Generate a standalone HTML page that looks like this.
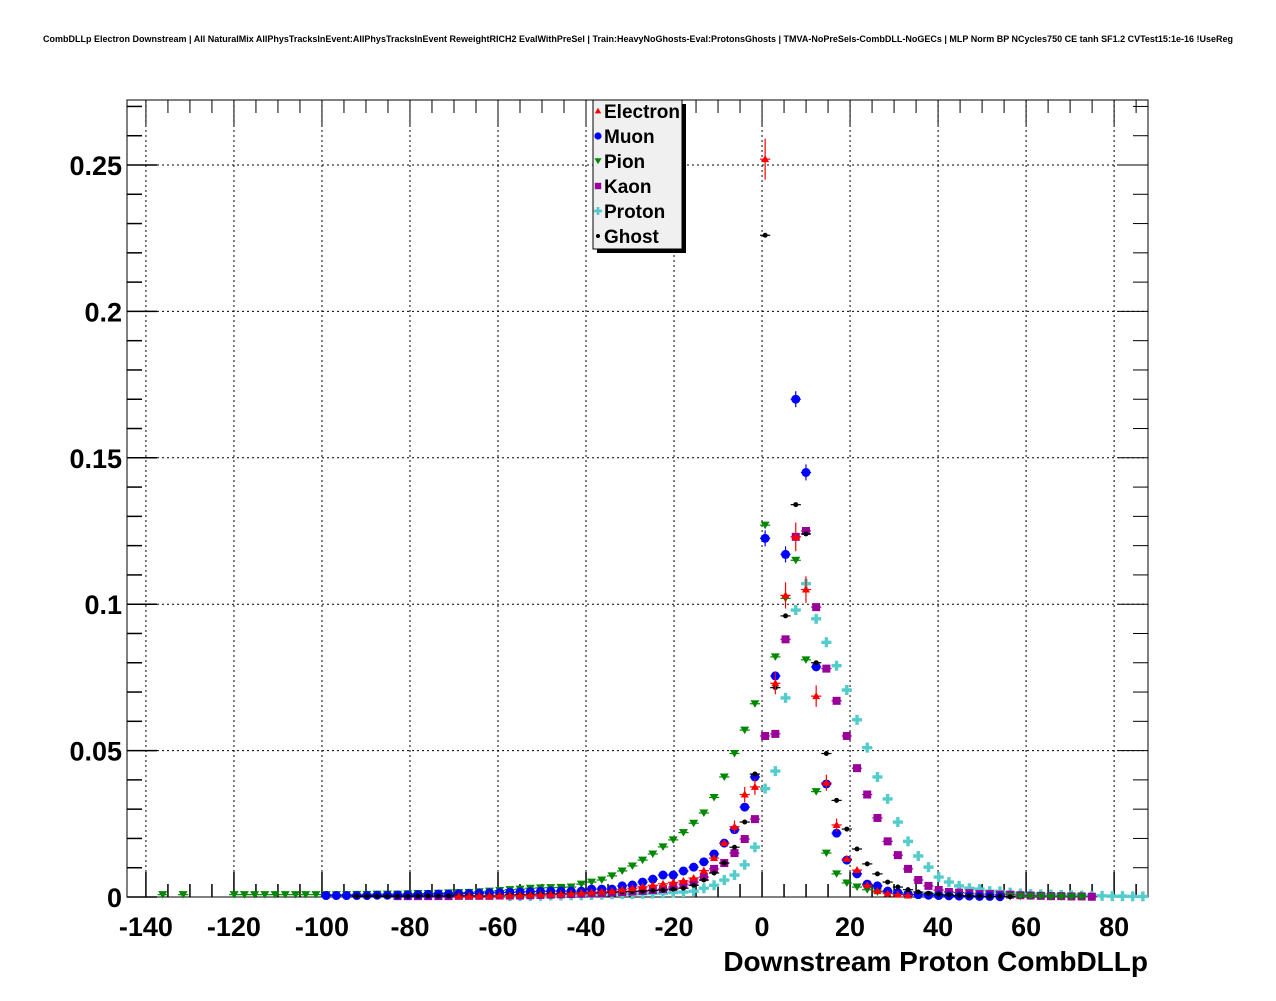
<!DOCTYPE html>
<html><head><meta charset="utf-8"><style>
body{margin:0;background:#fff;}
svg text{font-family:"Liberation Sans",sans-serif;font-weight:bold;}
</style></head><body>
<svg id="c" width="1276" height="996" xmlns="http://www.w3.org/2000/svg">
<text x="638" y="42" font-size="9" text-anchor="middle">CombDLLp Electron Downstream | All NaturalMix AllPhysTracksInEvent:AllPhysTracksInEvent ReweightRICH2 EvalWithPreSel | Train:HeavyNoGhosts-Eval:ProtonsGhosts | TMVA-NoPreSels-CombDLL-NoGECs | MLP Norm BP NCycles750 CE tanh SF1.2 CVTest15:1e-16 !UseReg</text>
<g id="grid"></g>
<g id="axes"></g>
<g id="marks"></g>
<text x="1148" y="971" font-size="28" text-anchor="end">Downstream Proton CombDLLp</text>
<g>
<rect x="597" y="104" width="89" height="149" fill="#000"/>
<rect x="593" y="100" width="89" height="149" fill="#f0f0f0" stroke="#000" stroke-width="1"/>
<g id="leg"></g>
</g>
</svg>
<script>
const xTicks=[-140,-120,-100,-80,-60,-40,-20,0,20,40,60,80];
const yTicks=[0,0.05,0.1,0.15,0.2,0.25];
const yTickLabels=["0","0.05","0.1","0.15","0.2","0.25"];
const binCenter0=0.7, binWidth=2.32;
const electronStart=-30;
const electronVals=[0.0003,0.0003,0.0004,0.0004,0.0005,0.0005,0.0006,0.0007,0.0008,0.0009,0.001,0.0012,0.0014,0.0016,0.0018,0.002,0.0025,0.003,0.0035,0.004,0.0045,0.005,0.0055,0.0065,0.009,0.0133,0.0184,0.024,0.035,0.0376,0.252,0.073,0.103,0.123,0.105,0.0686,0.039,0.0246,0.013,0.0092,0.004,0.002,0.0012,0.0008,0.0005];
const muonStart=-43;
const muonVals=[0.0005,0.0005,0.0005,0.0005,0.0005,0.0006,0.0006,0.0007,0.0007,0.0008,0.0009,0.001,0.001,0.0011,0.0012,0.0013,0.0014,0.0015,0.0016,0.0017,0.0018,0.0019,0.002,0.002,0.002,0.002,0.0027,0.0027,0.0027,0.0038,0.0041,0.0051,0.0061,0.0075,0.0075,0.0089,0.0102,0.012,0.0147,0.0184,0.023,0.0307,0.041,0.1225,0.0755,0.117,0.17,0.145,0.0786,0.0386,0.0218,0.0126,0.0079,0.0044,0.0038,0.002,0.0015,0.001,0.0008,0.0006,0.0005,0.0004,0.0003,0.0003,0.0002,0.0002,0.0001];
const pionStart=-59;
const pionVals=[0.0008,null,0.0008,null,null,null,null,0.0008,0.0008,0.0008,0.0008,0.0008,0.0008,0.0008,0.0008,0.0008,0.0008,0.0008,0.0008,0.0009,0.0009,0.001,0.001,0.001,0.0011,0.0012,0.0012,0.0013,0.0014,0.0015,0.0016,0.0018,0.002,0.0022,0.0025,0.0027,0.003,0.0031,0.0032,0.0033,0.0034,0.0044,0.0051,0.0058,0.0072,0.0089,0.0106,0.0126,0.0147,0.0171,0.0195,0.022,0.0252,0.0287,0.034,0.041,0.049,0.057,0.066,0.127,0.082,0.102,0.115,0.081,0.036,0.015,0.0079,0.0048,0.0034,0.0025,0.0017,0.0012,0.001,0.0008,0.0007,0.0006,0.0005,0.0005,0.0004,0.0004,0.0003,0.0003,0.0003,0.0002,0.0002,0.0002,0.0002,0.0001,0.0001,0.0001,0.0001];
const kaonStart=-36;
const kaonVals=[0.0003,0.0003,0.0003,0.0003,0.0003,0.0003,0.0004,0.0004,0.0004,0.0004,0.0005,0.0005,0.0005,0.0006,0.0007,0.0008,0.0009,0.001,0.0011,0.0012,0.0013,0.0015,0.0017,0.0019,0.0021,0.0024,0.0027,0.0034,0.0044,0.0051,0.0068,0.0096,0.0116,0.015,0.0198,0.0266,0.055,0.0557,0.088,0.123,0.125,0.099,0.078,0.067,0.055,0.044,0.035,0.027,0.019,0.0143,0.0096,0.0058,0.0038,0.0024,0.0017,0.0015,0.0013,0.001,0.001,0.0008,0.0008,0.0006,0.0005,0.0004,0.0003,0.0003,0.0002,0.0002,0.0001];
const protonStart=-25;
const protonVals=[0.0003,0.0003,0.0004,0.0004,0.0005,0.0005,0.0006,0.0006,0.0007,0.0008,0.0009,0.001,0.001,0.0011,0.0012,0.0013,0.0015,0.0017,0.002,0.003,0.004,0.0058,0.0075,0.011,0.017,0.037,0.043,0.068,0.098,0.107,0.095,0.087,0.079,0.0707,0.0605,0.051,0.041,0.0335,0.0256,0.019,0.014,0.0102,0.0068,0.0051,0.0038,0.003,0.0027,0.002,0.0019,0.0015,0.0012,0.001,0.0009,0.0008,0.0007,0.0006,0.0005,0.0004,0.0004,0.0003,0.0003,0.0002,0.0002];
const ghostStart=-40;
const ghostVals=[0.0003,0.0003,0.0003,0.0003,0.0003,0.0003,0.0004,0.0004,0.0004,0.0004,0.0005,0.0005,0.0005,0.0005,0.0006,0.0007,0.0008,0.0009,0.001,0.0011,0.0012,0.0013,0.0014,0.0015,0.0016,0.0017,0.0018,0.0019,0.002,0.0022,0.0024,0.0027,0.003,0.004,0.0058,0.0082,0.0116,0.017,0.0256,0.042,0.226,0.0715,0.096,0.134,0.124,0.080,0.049,0.033,0.0232,0.0164,0.0113,0.0079,0.0051,0.0034,0.0025,0.0017,0.0012,0.0009,0.0007,0.0005,0.0004,0.0003,0.0002,0.0002,0.0001];
const seriesNames=["Electron","Muon","Pion","Kaon","Proton","Ghost"];

const NS="http://www.w3.org/2000/svg";
const L=127,R=1148,T=100,B=897;
const X0=-144.3,X1=87.7,Y0=0,Y1=0.2722;
function xs(v){return L+(v-X0)/(X1-X0)*(R-L);}
function ys(v){return B-(v-Y0)/(Y1-Y0)*(B-T);}
function el(tag,attrs,parent){const e=document.createElementNS(NS,tag);for(const k in attrs)e.setAttribute(k,attrs[k]);parent.appendChild(e);return e;}
const grid=document.getElementById('grid'),axes=document.getElementById('axes'),marks=document.getElementById('marks'),leg=document.getElementById('leg');
xTicks.forEach(t=>{const l=el('line',{x1:xs(t),x2:xs(t),y1:T,y2:B,stroke:'#000','stroke-dasharray':'2,3','stroke-width':1},grid);

});
yTicks.slice(1).forEach(t=>{const l=el('line',{x1:L,x2:R,y1:ys(t),y2:ys(t),stroke:'#000','stroke-dasharray':'2,3','stroke-width':1},grid);

});
const fr=el('rect',{x:L,y:T,width:R-L,height:B-T,fill:'none',stroke:'#000','stroke-width':1},axes);


for(let v=-140;v<=85;v+=5){const maj=(v%20===0);const len=maj?25:13;
el('line',{x1:xs(v),x2:xs(v),y1:B,y2:B-len,stroke:'#000','stroke-width':1.5},axes);
el('line',{x1:xs(v),x2:xs(v),y1:T,y2:T+len,stroke:'#000','stroke-width':1},axes);}
xTicks.forEach(t=>{const tx=el('text',{x:xs(t),y:936,'font-size':27,'text-anchor':'middle'},axes);tx.textContent=String(t);

});
for(let k=0;k<=27;k++){const v=k*0.01;const maj=(k%5===0);const len=maj?30:15;
el('line',{x1:L,x2:L+len,y1:ys(v),y2:ys(v),stroke:'#000','stroke-width':1.5},axes);
el('line',{x1:R,x2:R-len,y1:ys(v),y2:ys(v),stroke:'#000','stroke-width':1},axes);}
yTicks.forEach((t,i)=>{const tx=el('text',{x:122,y:ys(t)+10,'font-size':27,'text-anchor':'end'},axes);tx.textContent=yTickLabels[i];

});
const colors=["#ff0000","#0000ff","#008800","#990099","#55cccc","#000000"];
function marker(kind,cx,cy,parent,s){const c=colors[kind];s=s||1;
if(kind===0)return el('polygon',{points:`${cx},${cy-4*s} ${cx-4*s},${cy+3*s} ${cx+4*s},${cy+3*s}`,fill:c},parent);
if(kind===1)return el('circle',{cx:cx,cy:cy,r:4.5*s,fill:c},parent);
if(kind===2)return el('polygon',{points:`${cx-4.5*s},${cy-3.5*s} ${cx+4.5*s},${cy-3.5*s} ${cx},${cy+4*s}`,fill:c},parent);
if(kind===3)return el('rect',{x:cx-4*s,y:cy-4*s,width:8*s,height:8*s,fill:c},parent);
if(kind===4)return el('path',{d:`M${cx-5*s},${cy-1.7*s}h${3.3*s}v${-3.3*s}h${3.4*s}v${3.3*s}h${3.3*s}v${3.4*s}h${-3.3*s}v${3.3*s}h${-3.4*s}v${-3.3*s}h${-3.3*s}z`,fill:c},parent);
return el('circle',{cx:cx,cy:cy,r:2.5*s,fill:c},parent);}
const allSeries=[[electronStart,electronVals],[muonStart,muonVals],[pionStart,pionVals],[kaonStart,kaonVals],[protonStart,protonVals],[ghostStart,ghostVals]];
const drawOrder=[4,3,2,1,5,0];
drawOrder.forEach(k=>{const [st,vals]=allSeries[k];const g=el('g',{},marks);


vals.forEach((v,j)=>{if(v===null)return;const xc=binCenter0+binWidth*(st+j);if(xc>X1)return;
const px=xs(xc),py=ys(v);
el('line',{x1:xs(xc-binWidth/2),x2:xs(xc+binWidth/2),y1:py,y2:py,stroke:colors[k],'stroke-width':1.2},g);
if(k===0&&v>0.02){const e=0.007*Math.sqrt(v/0.252);el('line',{x1:px,x2:px,y1:ys(v+e),y2:ys(v-e),stroke:colors[k],'stroke-width':1.2},g);}
if(k===1&&v>0.1){el('line',{x1:px,x2:px,y1:py-8,y2:py+8,stroke:colors[k],'stroke-width':1.2},g);}
const m=marker(k,px,py,g);

});});
seriesNames.forEach((n,i)=>{const y=111+i*25;const m=marker(i,598,y,leg,0.8);
const t=el('text',{x:604,y:y+7,'font-size':19},leg);t.textContent=n;

});
</script>
</body></html>
